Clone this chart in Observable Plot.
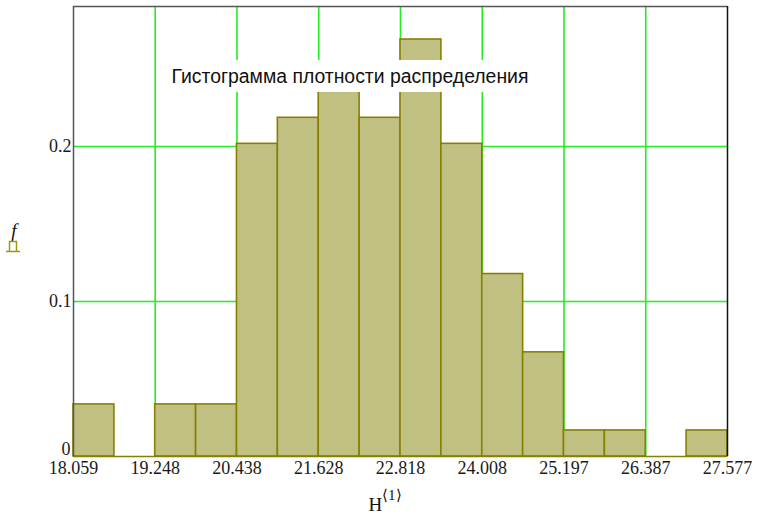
<!DOCTYPE html>
<html>
<head>
<meta charset="utf-8">
<script src="https://cdn.jsdelivr.net/npm/d3@7"></script>
<script src="https://cdn.jsdelivr.net/npm/@observablehq/plot@0.6"></script>
<style>
  body { margin: 0; background: #fff; }
  #chart svg { display: block; }
</style>
</head>
<body>
<div id="chart"></div>
<script>
// Bin edges of the histogram (17 edges -> 16 bins)
const binEdges = [18.059, 18.654, 19.248, 19.843, 20.438, 21.033, 21.628, 22.223, 22.818,
                  23.413, 24.008, 24.603, 25.197, 25.792, 26.387, 26.982, 27.577];
// Density values f for each bin
const density = [0.0336, 0, 0.0336, 0.0336, 0.2017, 0.2185, 0.2353, 0.2185,
                 0.2690, 0.2017, 0.1177, 0.0672, 0.0168, 0.0168, 0, 0.0168];
// Axis ticks
const xTickValues = [18.059, 19.248, 20.438, 21.628, 22.818, 24.008, 25.197, 26.387, 27.577];
const xTickLabels = ["18.059", "19.248", "20.438", "21.628", "22.818", "24.008", "25.197", "26.387", "27.577"];
const xGridValues = [19.248, 20.438, 21.628, 22.818, 24.008, 25.197, 26.387];
const yTickValues = [0.1, 0.2];
const yTickLabels = ["0.1", "0.2"];
const yGridValues = [0.1, 0.2];
const titleText = "Гистограмма плотности распределения";

const bins = density.map((v, i) => ({x1: binEdges[i], x2: binEdges[i + 1], f: v}));
const xMin = binEdges[0], xMax = binEdges[binEdges.length - 1];
const yMax = 0.2903;

const serif = "'Liberation Serif', 'Times New Roman', serif";

const plot = Plot.plot({
  width: 757,
  height: 517,
  marginLeft: 73,
  marginRight: 30,
  marginTop: 6,
  marginBottom: 61,
  x: {domain: [xMin, xMax]},
  y: {domain: [0, yMax]},
  style: {fontFamily: serif, background: "#fff"},
  marks: [
    Plot.ruleX(xGridValues, {stroke: "#22ee22", strokeWidth: 1.6}),
    Plot.ruleY(yGridValues, {stroke: "#22ee22", strokeWidth: 1.6}),
    Plot.rectY(bins, {x1: "x1", x2: "x2", y: "f", fill: "#c1c083", stroke: "#858000", strokeWidth: 1.6}),
    Plot.ruleY([0], {stroke: "#858000", strokeWidth: 1.6}),
    Plot.ruleX([xMin], {stroke: "#555", strokeWidth: 1.5}),
    Plot.ruleY([yMax], {stroke: "#555", strokeWidth: 1.5}),
    Plot.ruleX([xMax], {stroke: "#111", strokeWidth: 1.5}),
    Plot.axisX({
      ticks: xTickValues,
      tickFormat: (d) => xTickLabels[xTickValues.indexOf(d)],
      tickSize: 0, tickPadding: 5, fontSize: 18, label: null, fill: "#1a1a1a"
    }),
    Plot.axisY({
      ticks: yTickValues,
      tickFormat: (d) => yTickLabels[yTickValues.indexOf(d)],
      tickSize: 0, tickPadding: 2, fontSize: 18, label: null, fill: "#1a1a1a"
    }),
    Plot.axisY({
      ticks: [0], tickFormat: () => "0",
      tickSize: 0, tickPadding: 3, fontSize: 18, label: null, dy: -7, fill: "#1a1a1a"
    })
  ]
});

document.getElementById("chart").appendChild(plot);

// Overlays: title box, axis labels
const svg = d3.select(plot);
const g = svg.append("g");
g.append("rect").attr("x", 166).attr("y", 60).attr("width", 368).attr("height", 32).attr("fill", "#fff");
g.append("text").attr("x", 350).attr("y", 83).attr("text-anchor", "middle")
  .attr("font-family", "'Liberation Sans', Arial, sans-serif").attr("font-size", 19.4)
  .attr("fill", "#111").text(titleText);

// y label "f" with trace symbol
g.append("text").attr("x", 14).attr("y", 237).attr("text-anchor", "middle")
  .attr("font-family", serif).attr("font-style", "italic").attr("font-size", 19)
  .attr("fill", "#111").text("f");
g.append("path").attr("d", "M6,251.5 H20 M9.5,251.5 V241.5 H16.5 V251.5")
  .attr("fill", "none").attr("stroke", "#9a9a10").attr("stroke-width", 1.5);

// x label H<1>
const xl = g.append("text").attr("x", 385).attr("y", 511)
  .attr("font-family", serif).attr("font-size", 19).attr("fill", "#111");
xl.append("tspan").text("H");
xl.append("tspan").attr("dy", -11).attr("font-size", 15).text("\u27E81\u27E9");
</script>
</body>
</html>
